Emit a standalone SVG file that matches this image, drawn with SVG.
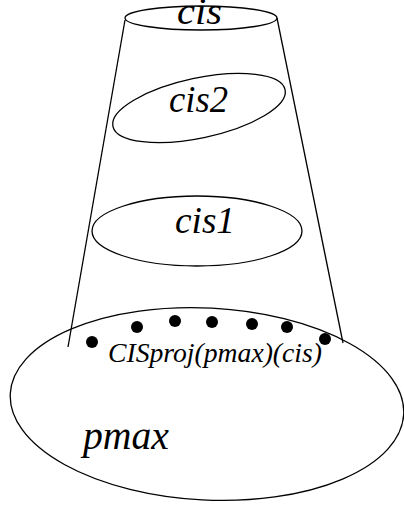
<svg xmlns="http://www.w3.org/2000/svg" width="404" height="507" viewBox="0 0 404 507">
  <style>
    .outline { fill: none; stroke: #000; stroke-width: 1.3; }
    .label { font-family: 'Liberation Serif', 'DejaVu Serif', serif; font-style: italic; fill: #000; }
    .dot { fill: #000; }
  </style>
  <rect width="404" height="507" fill="#fff"/>

  <!-- cone sides -->
  <g id="connectors">
    <line class="outline" x1="125" y1="20" x2="68" y2="347"/>
    <line class="outline" x1="277" y1="18" x2="343" y2="343"/>
  </g>

  <g id="pmax">
    <ellipse class="outline" cx="207" cy="404" rx="197" ry="96" transform="rotate(3 207 404)"/>
    <text class="label" x="83" y="449" font-size="39" textLength="86" lengthAdjust="spacingAndGlyphs">pmax</text>
  </g>

  <g id="cisproj">
    <circle class="dot" cx="92" cy="342" r="6"/>
    <circle class="dot" cx="137" cy="327" r="6"/>
    <circle class="dot" cx="175" cy="321" r="6"/>
    <circle class="dot" cx="212" cy="322" r="6"/>
    <circle class="dot" cx="252" cy="324" r="6"/>
    <circle class="dot" cx="287" cy="327" r="6"/>
    <circle class="dot" cx="325" cy="339" r="6"/>
    <text class="label" x="108" y="362" font-size="27" textLength="214" lengthAdjust="spacingAndGlyphs">CISproj(pmax)(cis)</text>
  </g>

  <g id="cis1">
    <ellipse class="outline" cx="197" cy="231" rx="105" ry="35"/>
    <text class="label" x="175" y="233" font-size="37" textLength="60" lengthAdjust="spacingAndGlyphs">cis1</text>
  </g>

  <g id="cis2">
    <ellipse class="outline" cx="199" cy="108" rx="88" ry="30" transform="rotate(-12 199 108)"/>
    <text class="label" x="169" y="112" font-size="37" textLength="59" lengthAdjust="spacingAndGlyphs">cis2</text>
  </g>

  <g id="cis">
    <ellipse class="outline" cx="201" cy="18" rx="76" ry="12"/>
    <text class="label" x="177" y="24" font-size="37" textLength="45" lengthAdjust="spacingAndGlyphs">cis</text>
  </g>
</svg>
